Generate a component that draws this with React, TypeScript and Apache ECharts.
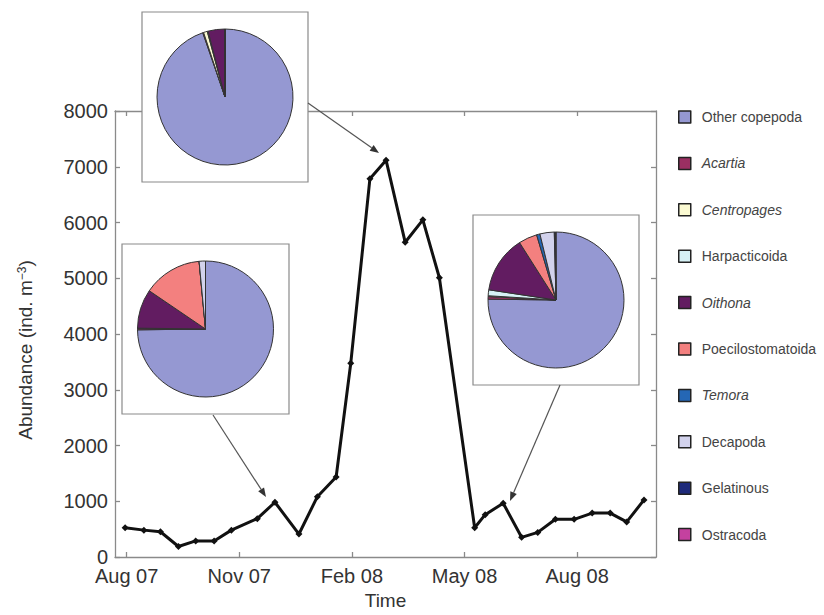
import React, { useEffect, useRef } from "react";
import * as echarts from "echarts";

// ---------- data ----------
// sampling dates expressed in months since 1 Aug 2007
const sampleMonths = [
  -0.04, 0.46, 0.9, 1.38, 1.84, 2.33, 2.79, 3.48, 3.95, 4.59, 5.08, 5.58, 5.97,
  6.48, 6.91, 7.42, 7.89, 8.33, 9.27, 9.55, 10.03, 10.52, 10.95, 11.42, 11.92,
  12.4, 12.88, 13.32, 13.78,
];
const abundance = [
  524, 482, 453, 188, 288, 288, 482, 688, 982, 412, 1082, 1435, 3476, 6786,
  7118, 5645, 6048, 5009, 524, 759, 965, 353, 441, 676, 676, 788, 788, 629,
  1024,
];
const tickMonths = [0, 3, 6, 9, 12];
const tickLabels = ["Aug 07", "Nov 07", "Feb 08", "May 08", "Aug 08"];

const taxa = [
  "Other copepoda",
  "Acartia",
  "Centropages",
  "Harpacticoida",
  "Oithona",
  "Poecilostomatoida",
  "Temora",
  "Decapoda",
  "Gelatinous",
  "Ostracoda",
];
const italicTaxa = ["Acartia", "Centropages", "Oithona", "Temora"];
// composition (%) of the three inset pies
const pieNov07 = [74.8, 0.3, 0, 0.1, 9.3, 14.0, 0, 1.5, 0, 0];
const pieMar08 = [94.7, 0.2, 0.9, 0.2, 4.0, 0, 0, 0, 0, 0];
const pieMay08 = [75.2, 0.6, 0.2, 1.4, 13.6, 4.4, 0.8, 3.4, 0.3, 0.1];

const taxaColors = [
  "#9598d2",
  "#9b2f62",
  "#fbfad2",
  "#d6f1f5",
  "#621c61",
  "#f3807f",
  "#2567b5",
  "#d2d2ec",
  "#1e2a7a",
  "#c4419f",
];

const FONT = "'Liberation Sans', Arial, Helvetica, sans-serif";

function arrow(x1: number, y1: number, x2: number, y2: number) {
  const ang = Math.atan2(y2 - y1, x2 - x1);
  const L = 9;
  const W = 3.5;
  const bx = x2 - L * Math.cos(ang);
  const by = y2 - L * Math.sin(ang);
  const px = -Math.sin(ang) * W;
  const py = Math.cos(ang) * W;
  return [
    {
      type: "line",
      z: 5,
      shape: { x1, y1, x2: bx, y2: by },
      style: { stroke: "#555", lineWidth: 1.2 },
    },
    {
      type: "polygon",
      z: 5,
      shape: {
        points: [
          [x2, y2],
          [bx + px, by + py],
          [bx - px, by - py],
        ],
      },
      style: { fill: "#333" },
    },
  ];
}

function pieSeries(values: number[], center: number[]) {
  return {
    type: "pie",
    center,
    radius: 68,
    startAngle: 90,
    clockwise: true,
    z: 4,
    silent: true,
    label: { show: false },
    labelLine: { show: false },
    emphasis: { disabled: true },
    itemStyle: { borderColor: "#333", borderWidth: 1 },
    data: taxa.map((name, i) => ({
      name,
      value: values[i],
      itemStyle: { color: taxaColors[i] },
    })),
  };
}

export default function App() {
  const ref = useRef<HTMLDivElement>(null);

  useEffect(() => {
    if (!ref.current) return;
    const chart = echarts.init(ref.current, undefined, { renderer: "svg" });

    const axisLineStyle = { color: "#8a8a8a", width: 1.3 };
    const xCommon = {
      type: "value",
      min: -0.31,
      max: 14.1,
      splitLine: { show: false },
      axisLine: { show: true, onZero: false, lineStyle: axisLineStyle },
    };
    const yCommon = {
      type: "value",
      min: 0,
      max: 8000,
      interval: 1000,
      splitLine: { show: false },
      axisLine: { show: true, onZero: false, lineStyle: axisLineStyle },
      axisTick: { show: true, inside: true, length: 5, lineStyle: axisLineStyle },
    };

    chart.setOption({
      animation: false,
      grid: { left: 115, right: 168, top: 111, bottom: 54, containLabel: false },
      xAxis: [
        {
          ...xCommon,
          position: "bottom",
          name: "Time",
          nameLocation: "middle",
          nameGap: 34,
          nameTextStyle: { fontSize: 19, color: "#333", fontFamily: FONT },
          axisTick: {
            show: true,
            inside: true,
            length: 5,
            customValues: tickMonths,
            lineStyle: axisLineStyle,
          },
          axisLabel: {
            customValues: tickMonths,
            formatter: (v: number) => {
              const i = tickMonths.indexOf(Math.round(v));
              return i >= 0 ? tickLabels[i] : "";
            },
            fontSize: 20,
            lineHeight: 18,
            color: "#333",
            fontFamily: FONT,
            margin: 10,
          },
        },
        {
          ...xCommon,
          position: "top",
          axisTick: {
            show: true,
            inside: true,
            length: 5,
            customValues: tickMonths,
            lineStyle: axisLineStyle,
          },
          axisLabel: { show: false },
        },
      ],
      yAxis: [
        {
          ...yCommon,
          position: "left",
          axisLabel: {
            fontSize: 20,
            lineHeight: 16,
            color: "#333",
            fontFamily: FONT,
            margin: 7,
            formatter: (v: number) => String(v),
          },
        },
        {
          ...yCommon,
          position: "right",
          axisLabel: { show: false },
        },
      ],
      legend: {
        orient: "vertical",
        left: 673,
        top: 105,
        itemWidth: 12,
        itemHeight: 12,
        itemGap: 32.4,
        icon: "rect",
        selectedMode: false,
        data: taxa,
        itemStyle: { borderColor: "#222", borderWidth: 1.5 },
        formatter: (name: string) =>
          italicTaxa.indexOf(name) >= 0 ? `{i|${name}}` : `{n|${name}}`,
        textStyle: {
          fontSize: 14,
          color: "#444",
          fontFamily: FONT,
          padding: [0, 0, 0, 6],
          rich: {
            i: { fontSize: 14, color: "#444", fontFamily: FONT, fontStyle: "italic" },
            n: { fontSize: 14, color: "#444", fontFamily: FONT },
          },
        },
      },
      graphic: [
        {
          type: "text",
          x: 25,
          y: 350,
          rotation: Math.PI / 2,
          z: 5,
          style: {
            text: "{a|Abundance (ind. m}{s|−3}{a|)}",
            align: "center",
            verticalAlign: "middle",
            fill: "#333",
            fontFamily: FONT,
            fontSize: 19,
            rich: {
              a: { fontSize: 19, fontFamily: FONT, fill: "#333", color: "#333" },
              s: {
                fontSize: 12,
                fontFamily: FONT,
                fill: "#333",
                color: "#333",
                verticalAlign: "top",
              },
            },
          },
        },
        {
          type: "rect",
          z: 1,
          shape: { x: 142, y: 12, width: 166, height: 170 },
          style: { fill: "#fff", stroke: "#8a8a8a", lineWidth: 1.2 },
        },
        {
          type: "rect",
          z: 1,
          shape: { x: 122, y: 244, width: 167, height: 170 },
          style: { fill: "#fff", stroke: "#8a8a8a", lineWidth: 1.2 },
        },
        {
          type: "rect",
          z: 1,
          shape: { x: 473, y: 215, width: 166, height: 170 },
          style: { fill: "#fff", stroke: "#8a8a8a", lineWidth: 1.2 },
        },
        ...arrow(308, 103, 379, 153),
        ...arrow(213, 415, 266, 497),
        ...arrow(560, 385, 510, 501),
      ],
      series: [
        {
          type: "line",
          xAxisIndex: 0,
          yAxisIndex: 0,
          data: sampleMonths.map((m, i) => [m, abundance[i]]),
          symbol: "diamond",
          symbolSize: 7,
          lineStyle: { color: "#111", width: 3 },
          itemStyle: { color: "#111" },
          z: 3,
          silent: true,
        },
        pieSeries(pieMar08, [225, 97]),
        pieSeries(pieNov07, [205.5, 329]),
        pieSeries(pieMay08, [556, 300]),
      ],
    });

    return () => chart.dispose();
  }, []);

  return (
    <div
      ref={ref}
      style={{ position: "fixed", left: 0, top: 0, width: 824, height: 615, background: "#fff" }}
    />
  );
}
